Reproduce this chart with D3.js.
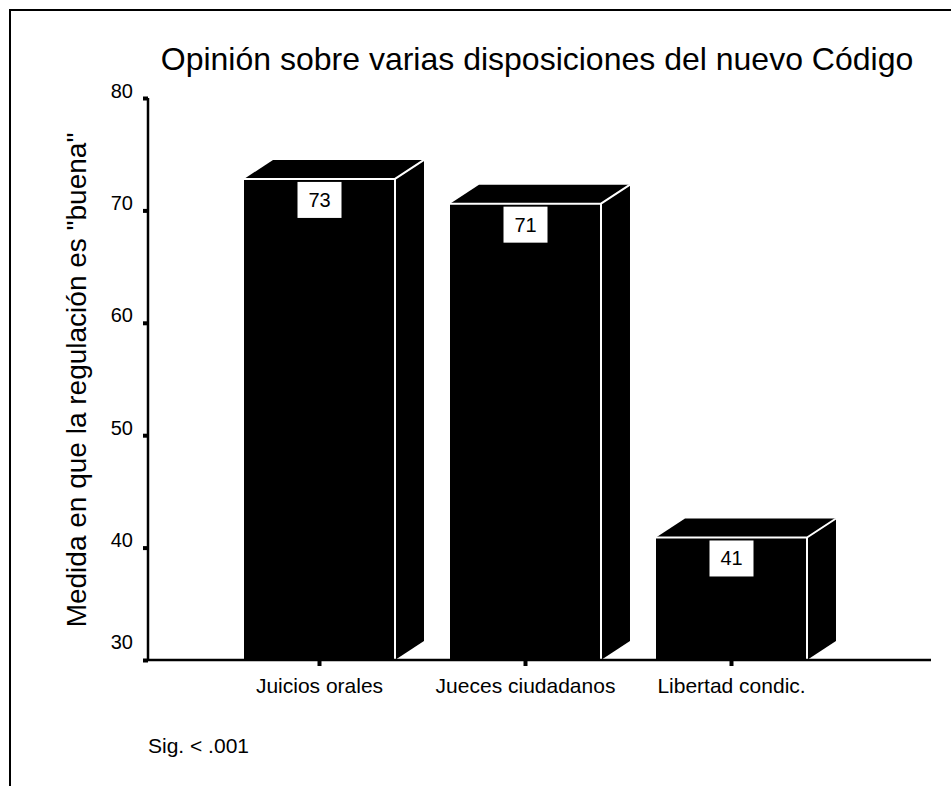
<!DOCTYPE html>
<meta charset="utf-8">
<style>
body { margin: 0; background: #fff; }
text { font-family: "Liberation Sans", Arial, sans-serif; fill: #000; }
</style>
<body>
<div id="chart"></div>
<script src="https://d3js.org/d3.v7.min.js"></script>
<script>
var categories = ["Juicios orales", "Jueces ciudadanos", "Libertad condic."];
var values = [72.8, 70.6, 40.9];
var yTicks = [30, 40, 50, 60, 70, 80];

var width = 951, height = 786;
var depthX = 29, depthY = -19;

var svg = d3.select("#chart").append("svg")
    .attr("width", width)
    .attr("height", height);

// frame (only top and left edges visible in the picture)
svg.append("path")
    .attr("d", "M10,786V10H951")
    .attr("fill", "none")
    .attr("stroke", "#000")
    .attr("stroke-width", 2);

var y = d3.scaleLinear().domain([30, 80]).range([660, 98]);

var x = d3.scaleBand()
    .domain(categories)
    .range([216.5, 834.5])
    .paddingInner(0.267)
    .paddingOuter(0.1335);

svg.append("text")
    .attr("x", 537)
    .attr("y", 70)
    .attr("text-anchor", "middle")
    .attr("font-size", 32)
    .text("Opinión sobre varias disposiciones del nuevo Código");

// bars
var bars = svg.selectAll("g.bar")
  .data(values)
  .enter().append("g")
    .attr("class", "bar");

bars.append("path")
    .attr("fill", "#000")
    .attr("d", function(d, i) {
      var x0 = x(categories[i]), x1 = x0 + x.bandwidth(), t = y(d), b = y(30);
      return "M" + x0 + "," + t + "L" + (x0 + depthX) + "," + (t + depthY) +
        "L" + (x1 + depthX) + "," + (t + depthY) + "L" + (x1 + depthX) + "," + (b + depthY) +
        "L" + x1 + "," + b + "L" + x0 + "," + b + "Z";
    });

bars.append("path")
    .attr("fill", "none")
    .attr("stroke", "#fff")
    .attr("stroke-width", 2)
    .attr("d", function(d, i) {
      var x0 = x(categories[i]), x1 = x0 + x.bandwidth(), t = y(d), b = y(30);
      return "M" + x0 + "," + t + "H" + x1 + "V" + b +
        "M" + x1 + "," + t + "L" + (x1 + depthX) + "," + (t + depthY);
    });

bars.append("rect")
    .attr("fill", "#fff")
    .attr("x", function(d, i) { return x(categories[i]) + x.bandwidth() / 2 - 22; })
    .attr("y", function(d) { return y(d) + 3; })
    .attr("width", 44)
    .attr("height", 36);

bars.append("text")
    .attr("x", function(d, i) { return x(categories[i]) + x.bandwidth() / 2; })
    .attr("y", function(d) { return y(d) + 28; })
    .attr("text-anchor", "middle")
    .attr("font-size", 20)
    .text(function(d) { return d3.format(".0f")(d); });

// y axis
var yAxis = svg.append("g")
    .attr("transform", "translate(148,0)")
    .call(d3.axisLeft(y).tickValues(yTicks).tickSize(5).tickPadding(10));
yAxis.select(".domain").attr("d", "M0," + y(80) + "V" + y(30)).attr("stroke-width", 2.5);
yAxis.selectAll(".tick line").attr("stroke-width", 4);
yAxis.selectAll(".tick text")
    .attr("font-size", 20)
    .attr("font-family", "Liberation Sans, Arial, sans-serif")
    .attr("dy", function(d) { return d === 30 ? "-0.6em" : "-0.05em"; });

// x axis
var xAxis = svg.append("g")
    .attr("transform", "translate(0," + y(30) + ")")
    .call(d3.axisBottom(x).tickSize(6).tickPadding(12));
xAxis.select(".domain").attr("d", "M147,0H931").attr("stroke-width", 2.5);
xAxis.selectAll(".tick line").attr("stroke-width", 4);
xAxis.selectAll(".tick text")
    .attr("font-size", 21)
    .attr("font-family", "Liberation Sans, Arial, sans-serif");

svg.append("text")
    .attr("transform", "translate(86,380) rotate(-90)")
    .attr("text-anchor", "middle")
    .attr("font-size", 28)
    .text("Medida en que la regulación es \"buena\"");

svg.append("text")
    .attr("x", 148)
    .attr("y", 753)
    .attr("font-size", 21)
    .text("Sig. < .001");
</script>
</body>
